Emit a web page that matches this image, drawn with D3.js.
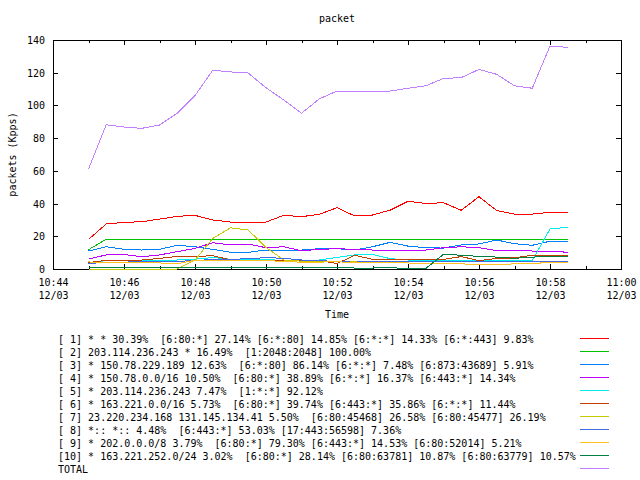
<!DOCTYPE html>
<html>
  <head>
    <script src="https://d3js.org/d3.v7.min.js"></script>
    <style>
      body { margin: 0; background: #fff; }
      text { font-family: "DejaVu Sans Mono", monospace; font-size: 10px; fill: #000; white-space: pre; }
    </style>
  </head>
  <body>
    <script>

    // sample times (every 30 s)
    var times = ["10:45:00", "10:45:30", "10:46:00", "10:46:30", "10:47:00", "10:47:30",
      "10:48:00", "10:48:30", "10:49:00", "10:49:30", "10:50:00", "10:50:30",
      "10:51:00", "10:51:30", "10:52:00", "10:52:30", "10:53:00", "10:53:30",
      "10:54:00", "10:54:30", "10:55:00", "10:55:30", "10:56:00", "10:56:30",
      "10:57:00", "10:57:30", "10:58:00", "10:58:30"];

    // series values (Kpps)
    var s1 = [18.1, 27.5, 28.5, 28.9, 30.5, 32.2, 32.8, 30, 28.7, 28.7, 28.7, 32.8, 32, 33.4,
      37.5, 32.4, 33, 36, 41.4, 40.1, 40.5, 35.9, 44.2, 35.7, 33.6, 33.6, 34.6, 34.6];
    var s2 = [11.8, 18.2, 18.2, 18.2, 18.2, 18.2, 18.2, 18.2, 18.2, 18.2, 18.2, 18.2, 18.2, 18.2,
      18.2, 18.2, 18.2, 18.2, 18.2, 18.2, 18.2, 18.2, 18.2, 18.2, 18.2, 18.2, 18.2, 18.2];
    var s3 = [11, 13.6, 12, 11.6, 12, 14.5, 13.6, 12, 10.2, 10.2, 11.6, 11.6, 11.6, 12.4,
      12.4, 11.6, 13.6, 16.3, 14, 13, 12.8, 14.7, 15.3, 17.7, 15.5, 14.5, 17, 17];
    var s4 = [6.1, 8.6, 8.9, 7.5, 8.6, 10.6, 12.6, 16.1, 14.7, 15.3, 13, 13.6, 11.2, 12,
      12.4, 12, 11.6, 11.6, 11, 11.6, 13, 13.6, 13, 11.2, 11.6, 11, 11, 10.2];
    var s5 = [3.5, 5.2, 5.2, 5.2, 5.5, 5.5, 6, 7, 6, 5.5, 6, 5, 5, 5.5,
      7.1, 8.6, 9, 6.3, 5.5, 5.5, 5.5, 5.2, 5.2, 5.2, 5.2, 5.1, 24.5, 25.5];
    var s6 = [3.9, 5.3, 5.5, 5.5, 6.5, 7.7, 7.5, 8.2, 5.5, 5.5, 5.5, 5.5, 5.2, 5.2,
      3.3, 8.4, 5.9, 5.9, 5.9, 5.9, 5.9, 7.6, 5.1, 6.5, 6.8, 8.4, 8.4, 8.4];
    var s7 = [0, 0, 0, 0, 0, 0, 5.5, 18.7, 25.2, 23.8, 13.2, 5.5, 4.8, 4.8,
      4.8, 4.8, 4.8, 4.8, 4.8, 4.8, 4.8, 4.8, 4.8, 4.8, 4.8, 4.8, 4.8, 4.8];
    var s8 = [3.3, 4.2, 4.2, 4.5, 4.5, 4.8, 5, 6, 6, 6.2, 7, 6.5, 5.5, 5.2,
      4.5, 4.2, 4.8, 4.8, 4.8, 4.8, 4.5, 4.5, 4.8, 4.8, 4.5, 4.5, 4.8, 4.8];
    var s9 = [4.3, 4, 3.7, 3.7, 3.7, 3.2, 5.3, 5.5, 5, 5, 5.3, 4.5, 4.2, 4.2,
      4.5, 3.7, 3.7, 3.7, 3.7, 3.2, 3.2, 3.2, 2.5, 2.5, 3.2, 3.2, 4.2, 4.2];
    var s10 = [1, 1, 1.2, 1.2, 1, 1, 1.2, 1.2, 1.2, 1, 1, 1.2, 1.2, 1.2,
      1.2, 0.6, 0.6, 0.8, 0.3, 0.3, 9, 8.4, 7.7, 7.3, 6.5, 7.3, 7.5, 7.5];
    var total = [61, 88.2, 86.8, 86, 88, 95.2, 106, 121.5, 120.5, 119.8, 110.8, 103.3, 95.2, 104,
      108.8, 108.6, 108.6, 108.8, 110.5, 112, 116.5, 117, 122, 119, 112, 110.5, 136.3, 135.5];

    var legendLabels = [
      "[ 1] * * 30.39%  [6:80:*] 27.14% [6:*:80] 14.85% [6:*:*] 14.33% [6:*:443] 9.83%",
      "[ 2] 203.114.236.243 * 16.49%  [1:2048:2048] 100.00%",
      "[ 3] * 150.78.229.189 12.63%  [6:*:80] 86.14% [6:*:*] 7.48% [6:873:43689] 5.91%",
      "[ 4] * 150.78.0.0/16 10.50%  [6:80:*] 38.89% [6:*:*] 16.37% [6:443:*] 14.34%",
      "[ 5] * 203.114.236.243 7.47%  [1:*:*] 92.12%",
      "[ 6] * 163.221.0.0/16 5.73%  [6:80:*] 39.74% [6:443:*] 35.86% [6:*:*] 11.44%",
      "[ 7] 23.220.234.168 131.145.134.41 5.50%  [6:80:45468] 26.58% [6:80:45477] 26.19%",
      "[ 8] *:: *:: 4.48%  [6:443:*] 53.03% [17:443:56598] 7.36%",
      "[ 9] * 202.0.0.0/8 3.79%  [6:80:*] 79.30% [6:443:*] 14.53% [6:80:52014] 5.21%",
      "[10] * 163.221.252.0/24 3.02%  [6:80:*] 28.14% [6:80:63781] 10.87% [6:80:63779] 10.57%",
      "TOTAL"];
    var colors = ["#ff0000", "#00c000", "#0080ff", "#c000ff", "#00eeee", "#c04000",
      "#c8c800", "#4169e1", "#ffc020", "#008040", "#c080ff"];
    var yTicks = [0, 20, 40, 60, 80, 100, 120, 140];

    var series = [s1, s2, s3, s4, s5, s6, s7, s8, s9, s10, total];

    var w = 640, h = 480;
    var plotL = 53, plotR = 621, plotT = 40, plotB = 269;

    var parseT = d3.timeParse("%Y-%m-%d %H:%M:%S");
    var dates = times.map(function(t) { return parseT("2008-12-03 " + t); });

    var x = d3.scaleTime()
      .domain([parseT("2008-12-03 10:44:00"), parseT("2008-12-03 11:00:00")])
      .range([plotL, plotR]);
    var y = d3.scaleLinear().domain([0, 140]).range([plotB, plotT]);

    var svg = d3.select("body").append("svg")
      .attr("width", w)
      .attr("height", h);

    // title and axis labels
    svg.append("text").attr("x", 337).attr("y", 19)
      .attr("text-anchor", "middle").attr("dominant-baseline", "middle").text("packet");
    svg.append("text").attr("x", 337).attr("y", 315)
      .attr("text-anchor", "middle").attr("dominant-baseline", "middle").text("Time");
    svg.append("text")
      .attr("transform", "translate(13," + ((plotT + plotB) / 2) + ") rotate(-90)")
      .attr("text-anchor", "middle").attr("dominant-baseline", "middle").text("packets (Kpps)");

    var axes = svg.append("g").attr("shape-rendering", "crispEdges")
      .attr("stroke", "#000").attr("stroke-width", 1);

    // y ticks, both sides
    yTicks.forEach(function(v) {
      var yy = Math.round(y(v)) + 0.5;
      axes.append("line").attr("x1", plotL).attr("x2", plotL + 5).attr("y1", yy).attr("y2", yy);
      axes.append("line").attr("x1", plotR - 5).attr("x2", plotR).attr("y1", yy).attr("y2", yy);
      svg.append("text").attr("x", 45).attr("y", yy)
        .attr("text-anchor", "end").attr("dominant-baseline", "middle").text(v);
    });

    // x ticks, every minute, labels every 2 minutes
    var fmtTime = d3.timeFormat("%H:%M"), fmtDay = d3.timeFormat("%m/%d");
    x.ticks(d3.timeMinute.every(1)).forEach(function(d) {
      var xx = Math.round(x(d)) + 0.5;
      var major = d.getMinutes() % 2 === 0;
      var len = major ? 5 : 3;
      axes.append("line").attr("x1", xx).attr("x2", xx).attr("y1", plotB).attr("y2", plotB - len);
      axes.append("line").attr("x1", xx).attr("x2", xx).attr("y1", plotT).attr("y2", plotT + len);
      if (major) {
        svg.append("text").attr("x", xx).attr("y", 283)
          .attr("text-anchor", "middle").attr("dominant-baseline", "middle").text(fmtTime(d));
        svg.append("text").attr("x", xx).attr("y", 295.5)
          .attr("text-anchor", "middle").attr("dominant-baseline", "middle").text(fmtDay(d));
      }
    });

    axes.append("rect").attr("x", plotL + 0.5).attr("y", plotT + 0.5)
      .attr("width", plotR - plotL).attr("height", plotB - plotT).attr("fill", "none");

    // data lines
    var line = d3.line()
      .x(function(d, i) { return x(dates[i]); })
      .y(function(d) { return y(d); });

    svg.selectAll("path.series")
      .data(series)
      .enter()
      .append("path")
      .attr("class", "series")
      .attr("d", line)
      .attr("fill", "none")
      .attr("stroke", function(d, i) { return colors[i]; })
      .attr("stroke-width", 1)
      .attr("shape-rendering", "crispEdges");

    // legend
    legendLabels.forEach(function(lbl, i) {
      svg.append("text").attr("x", 58).attr("y", 340 + i * 13)
        .attr("dominant-baseline", "middle").text(lbl);
      svg.append("line").attr("x1", 580).attr("x2", 609)
        .attr("y1", 338.5 + i * 13).attr("y2", 338.5 + i * 13)
        .attr("stroke", colors[i]).attr("stroke-width", 1)
        .attr("shape-rendering", "crispEdges");
    });

    </script>
  </body>
</html>
